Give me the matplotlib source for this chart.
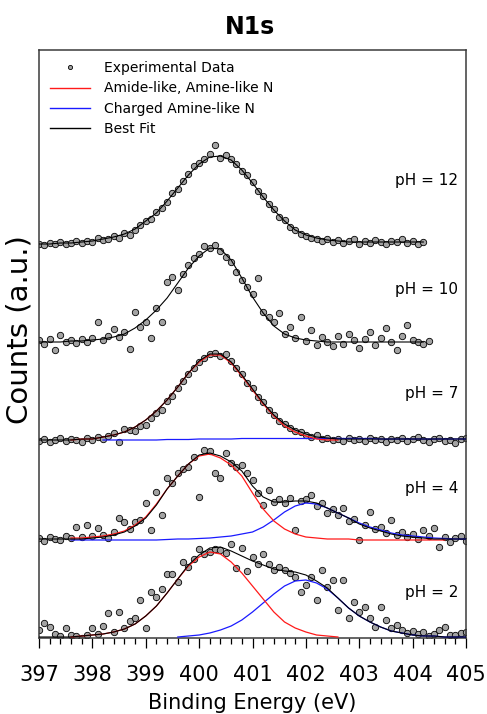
# IMPORTS

import numpy as np
import matplotlib
matplotlib.use("Agg")
import matplotlib.pyplot as plt
from matplotlib.ticker import MultipleLocator
from matplotlib.lines import Line2D

# DATA (counts in a.u., measured from each spectrum's own baseline)

ph_labels = ["pH = 12", "pH = 10", "pH = 7", "pH = 4", "pH = 2"]
offsets = [394, 296, 198, 99, 1]

# experimental data, 0.1 eV step starting at 397.0 eV
data_ph12 = [0, -1, 1, 0, 2, 0, 1, 3, 1, 3,
             2, 6, 4, 5, 8, 6, 11, 9, 14, 19,
             23, 25, 32, 36, 42, 51, 55, 63, 70, 78,
             81, 85, 90, 99, 86, 89, 85, 80, 73, 69,
             62, 53, 48, 40, 35, 27, 24, 17, 14, 10,
             8, 6, 5, 3, 5, 2, 4, 1, 3, 5,
             0, 3, 1, 4, 2, 0, 3, 2, 5, 1,
             3, 0, 2]
data_ph10 = [2, -2, 3, -8, 7, 0, 2, -1, 3, 0,
             4, 20, 2, 6, 13, 5, 10, -7, 30, 15,
             20, 4, 34, 20, 60, 65, 52, 68, 77, 84,
             88, 96, 94, 97, 91, 85, 80, 70, 62, 55,
             48, 64, 30, 25, 20, 29, 8, 15, 4, 25,
             1, 12, -3, 5, 0, -4, 6, -2, 8, 2,
             -6, 3, 10, -3, 4, 14, 0, -8, 6, 17,
             2, 0, -2, 1]
data_ph7 = [-1, 1, -2, 0, 2, -1, 1, 0, -2, 2,
            0, 3, 1, 4, 7, -2, 11, 10, 9, 14,
            15, 22, 27, 30, 39, 44, 52, 59, 66, 72,
            78, 82, 86, 87, 84, 86, 79, 72, 66, 57,
            52, 43, 38, 30, 25, 19, 16, 12, 9, 8,
            5, 3, 5, 1, 2, 0, 1, -1, 2, 0,
            1, -1, 2, 0, 1, -2, 1, 0, 2, -1,
            1, 3, 0, -2, 1, 2, -1, 0, -3, 1,
            2]
data_ph4 = [1, -2, 2, 0, -1, 3, 1, 12, 2, 14,
            3, 11, 4, 1, 7, 21, 17, 10, 17, 19,
            36, 9, 47, 24, 61, 56, 66, 70, 72, 82,
            42, 89, 88, 66, 61, 86, 76, 72, 74, 66,
            59, 46, 34, 49, 37, 40, 36, 41, 9, 38,
            40, 44, 33, 36, 26, 30, 24, 31, 18, 20,
            -1, 14, 27, 10, 12, 6, 19, 4, 7, 2,
            5, 0, 9, 3, 11, -8, 2, -3, 1, 3,
            -2]
data_ph2 = [7, 14, 10, 3, 1, 9, 2, 1, -1, 2,
            9, 3, 11, 24, 5, 25, 9, 16, 19, 37,
            9, 45, 40, 48, 63, 63, 55, 75, 70, 78,
            88, 83, 85, 88, 87, 84, 93, 69, 89, 66,
            80, 73, 83, 73, 67, 70, 67, 64, 60, 45,
            52, 60, 37, 67, 50, 57, 27, 57, 19, 35,
            25, 30, 19, 10, 30, 17, 9, 12, 7, 4,
            6, 3, 5, 1, 3, 7, 10, 2, 2, 4,
            5]

# best fit, 0.2 eV step starting at 397.0 eV
fit_ph12 = [0, 0, 1, 1, 2, 3, 5, 7, 10, 15,
            23, 31, 43, 56, 69, 80, 87, 88, 84, 74,
            61, 47, 34, 23, 14, 9, 6, 4, 3, 2,
            2, 2, 2, 2, 2, 2, 2]
fit_ph10 = [0, 0, 0, 1, 1, 2, 3, 5, 8, 14,
            22, 32, 44, 59, 74, 86, 94, 93, 82, 64,
            45, 29, 16, 8, 4, 2, 1, 0, 0, 0,
            0, 0, 0, 0, 0, 0, 0]
fit_ph7 = [0, 0, 0, 0, 1, 1, 3, 5, 8, 13,
           20, 29, 40, 53, 67, 79, 86, 86, 78, 65,
           51, 37, 25, 16, 10, 6, 3, 2, 1, 1,
           1, 1, 1, 1, 1, 1, 1, 1, 1, 1, 1]
fit_ph4 = [0, 0, 0, 0, 0, 1, 2, 4, 7, 13,
           21, 34, 50, 63, 75, 84, 86, 83, 77, 68,
           53, 42, 37, 37, 38, 38, 36, 31, 26, 21,
           15, 11, 8, 5, 3, 2, 1, 0, 0, 0, 0]
fit_ph2 = [0, 0, 0, 0, 1, 2, 3, 5, 8, 13,
           21, 31, 44, 58, 72, 82, 89, 90, 86, 81,
           76, 72, 68, 66, 65, 62, 56, 49, 39, 29,
           21, 15, 10, 6, 4, 2, 1, 1, 0, 0, 0]

# amide-like / amine-like N component, 0.2 eV step
amide_ph7_start = 397.6
amide_ph7 = [0, 1, 1, 3, 5, 8, 13, 20, 29, 40,
             53, 67, 78, 85, 85, 77, 64, 50, 36, 24,
             14, 8, 4, 1, 0, 0]
amide_ph4_start = 397.6
amide_ph4 = [1, 1, 2, 3, 5, 8, 14, 22, 35, 50,
             63, 75, 83, 85, 81, 74, 63, 46, 30, 18,
             10, 5, 2, 1, 0, 0, 0, -1, -1, -1,
             -1, -1, -1, -1, -1, -1]
amide_ph2_start = 397.6
amide_ph2 = [0, 1, 2, 3, 5, 8, 13, 21, 31, 44,
             58, 71, 80, 85, 83, 75, 64, 51, 38, 25,
             15, 9, 5, 2, 1, 0]

# charged amine-like N component, 0.2 eV step
charged_ph7_start = 398.2
charged_ph7 = [0, 0, 0, 0, 0, 0, 0.5, 0.5, 0.5, 1,
               1, 1, 1, 1.5, 1.5, 1.5, 1.5, 1.5, 1.5, 1.5,
               1.5, 1.5, 1.5, 1.5, 1.5, 1.5, 1, 1, 1, 1,
               1, 1, 1, 1, 1]
charged_ph4_start = 397.6
charged_ph4 = [-1, -1, -1, -1, -1, -1, -1, -1, -1, -0.5,
               0, 0, 0.5, 1, 2, 3, 5, 7, 12, 19,
               27, 33, 36, 35, 31, 26, 21, 16, 12, 9,
               6, 4, 3, 2, 1, 0.5, 0, 0]
charged_ph2_start = 399.6
charged_ph2 = [0, 1, 2, 4, 7, 11, 17, 25, 34, 43,
               51, 56, 57, 54, 48, 39, 29, 21, 15, 10,
               6, 4, 2, 1, 1, 0, 0, 0]

# LAYOUT

label_heights = [64, 53, 47, 50, 44]
marker_face = "#a3a3a3"


def energies(start, values, step):
    return start + step * np.arange(len(values))


def draw_spectrum(ax, offset, data, fit, amide=None, charged=None):
    y0 = offset
    ax.plot(energies(397.0, data, 0.1), np.array(data) + y0, "o",
            ms=4.6, mfc=marker_face, mec="black", mew=0.6, zorder=2)
    if charged is not None:
        start, vals = charged
        ax.plot(energies(start, vals, 0.2), np.array(vals) + y0,
                color="#1a1aff", lw=0.9, zorder=3)
    if amide is not None:
        start, vals = amide
        ax.plot(energies(start, vals, 0.2), np.array(vals) + y0,
                color="#ff1a1a", lw=0.9, zorder=4)
    ax.plot(energies(397.0, fit, 0.2), np.array(fit) + y0,
            color="black", lw=0.8, zorder=5)


# FIGURE

fig = plt.figure(figsize=(4.87, 7.14), dpi=100)
ax = fig.add_axes([39 / 487, 76 / 714, 427 / 487, 588 / 714])

draw_spectrum(ax, offsets[0], data_ph12, fit_ph12)
draw_spectrum(ax, offsets[1], data_ph10, fit_ph10)
draw_spectrum(ax, offsets[2], data_ph7, fit_ph7,
              (amide_ph7_start, amide_ph7), (charged_ph7_start, charged_ph7))
draw_spectrum(ax, offsets[3], data_ph4, fit_ph4,
              (amide_ph4_start, amide_ph4), (charged_ph4_start, charged_ph4))
draw_spectrum(ax, offsets[4], data_ph2, fit_ph2,
              (amide_ph2_start, amide_ph2), (charged_ph2_start, charged_ph2))

for lab, off, h in zip(ph_labels, offsets, label_heights):
    ax.text(404.85, off + h, lab, ha="right", va="center", fontsize=11)

ax.set_xlim(397, 405)
ax.set_ylim(0, 588)
ax.xaxis.set_major_locator(MultipleLocator(1))
ax.xaxis.set_minor_locator(MultipleLocator(0.2))
ax.tick_params(axis="x", which="major", direction="out", length=7.5,
               width=0.9, labelsize=15, pad=12)
ax.tick_params(axis="x", which="minor", direction="out", length=4, width=0.9)
ax.set_yticks([])
for s in ax.spines.values():
    s.set_color("#3a3a3a")
    s.set_linewidth(1.1)

ax.set_xlabel("Binding Energy (eV)", fontsize=15, labelpad=6)
ax.set_ylabel("Counts (a.u.)", fontsize=21)
ax.yaxis.set_label_coords(-0.012, 0.525)
fig.text(250 / 487, 1 - 27 / 714, "N1s", ha="center", va="center",
         fontsize=17, fontweight="bold")

handles = [
    Line2D([], [], ls="none", marker="o", ms=3, mfc=marker_face, mec="black", mew=0.6),
    Line2D([], [], color="#ff1a1a", lw=1),
    Line2D([], [], color="#1a1aff", lw=1),
    Line2D([], [], color="black", lw=1),
]
labels = ["Experimental Data", "Amide-like, Amine-like N",
          "Charged Amine-like N", "Best Fit"]
ax.legend(handles, labels, loc="upper left", bbox_to_anchor=(0.0, 1.0),
          frameon=False, fontsize=10, handlelength=2.9, handletextpad=1.0,
          labelspacing=0.45, borderaxespad=0.4)

fig.savefig("out.png", dpi=100)
